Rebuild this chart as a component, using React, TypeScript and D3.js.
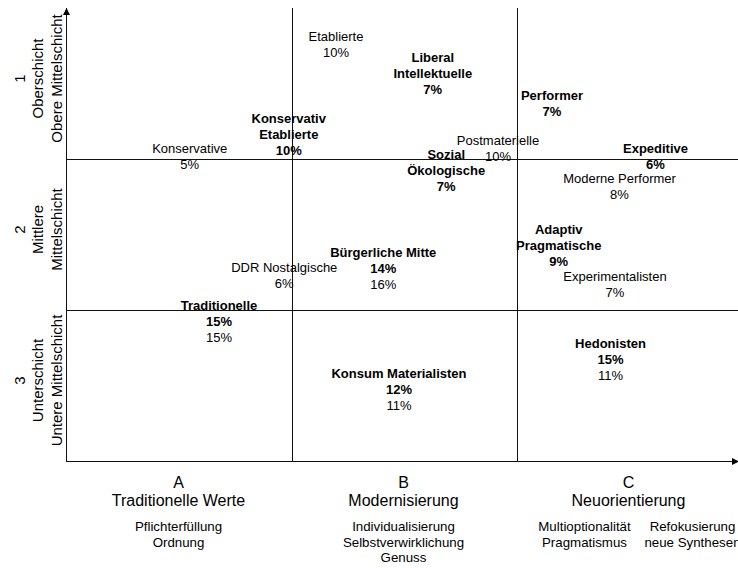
import React, { useRef, useEffect } from 'react';
import * as d3 from 'd3';

// Sinus-Milieus: new model (bold) and old model (normal), position in grid units (x: 0..3, y: 0..3)
const newNames = [
  'Liberal\nIntellektuelle',
  'Performer',
  'Konservativ\nEtablierte',
  'Sozial\nÖkologische',
  'Expeditive',
  'Adaptiv\nPragmatische',
  'Bürgerliche Mitte',
  'Traditionelle',
  'Konsum Materialisten',
  'Hedonisten',
];
const newShares = [7, 7, 10, 7, 6, 9, 14, 15, 12, 15];
const newX = [1.63, 2.16, 0.99, 1.69, 2.62, 2.19, 1.41, 0.68, 1.48, 2.42];
const newY = [0.33, 0.58, 0.73, 0.97, 0.93, 1.47, 1.62, 1.97, 2.42, 2.22];

const oldNames = [
  'Etablierte',
  'Konservative',
  'Postmaterielle',
  'Moderne Performer',
  'Experimentalisten',
  'DDR Nostalgische',
  'Bürgerliche Mitte',
  'Traditionelle',
  'Konsum Materialisten',
  'Hedonisten',
];
const oldShares = [10, 5, 10, 8, 7, 6, 16, 15, 11, 11];
const oldX = [1.2, 0.55, 1.92, 2.46, 2.44, 0.97];
const oldY = [0.19, 0.93, 0.88, 1.13, 1.78, 1.72];

const rowNumbers = ['1', '2', '3'];
const rowLabels = [
  ['Oberschicht', 'Obere Mittelschicht'],
  ['Mittlere', 'Mittelschicht'],
  ['Unterschicht', 'Untere Mittelschicht'],
];
const colLetters = ['A', 'B', 'C'];
const colLabels = ['Traditionelle Werte', 'Modernisierung', 'Neuorientierung'];
const colValues = [
  [['Pflichterfüllung', 'Ordnung']],
  [['Individualisierung', 'Selbstverwirklichung', 'Genuss']],
  [['Multioptionalität', 'Pragmatismus'], ['Refokusierung', 'neue Synthesen']],
];

const W = 738;
const H = 568;
const FONT = 'Arial, "Liberation Sans", sans-serif';

export default function App() {
  const ref = useRef<SVGSVGElement>(null);

  useEffect(() => {
    const svg = d3.select(ref.current);
    svg.selectAll('*').remove();

    const x = d3.scaleLinear().domain([0, 3]).range([66, 741]);
    const y = d3.scaleLinear().domain([0, 3]).range([8, 461]);
    const lineH = 16;

    svg.append('defs').append('marker')
      .attr('id', 'arrow')
      .attr('viewBox', '0 0 10 10')
      .attr('refX', 10).attr('refY', 5)
      .attr('markerWidth', 7).attr('markerHeight', 7)
      .attr('markerUnits', 'userSpaceOnUse')
      .attr('orient', 'auto')
      .append('path').attr('d', 'M0,0L10,5L0,10z').attr('fill', '#000');

    const g = svg.append('g').attr('stroke', '#111').attr('stroke-width', 1).attr('shape-rendering', 'crispEdges');

    // grid lines
    [1, 2].forEach(v => {
      g.append('line').attr('x1', x(v) + 1).attr('x2', x(v) + 1).attr('y1', y(0)).attr('y2', y(3));
      g.append('line').attr('x1', x(0)).attr('x2', 738).attr('y1', y(v) + 0.5).attr('y2', y(v) + 0.5);
    });

    // axes with arrows
    g.append('line').attr('x1', x(0) + 0.5).attr('x2', x(0) + 0.5).attr('y1', y(3)).attr('y2', 8)
      .attr('marker-end', 'url(#arrow)');
    g.append('line').attr('x1', x(0)).attr('x2', 739).attr('y1', y(3) + 0.5).attr('y2', y(3) + 0.5)
      .attr('marker-end', 'url(#arrow)');

    const txt = svg.append('g').attr('font-family', FONT).attr('fill', '#000').attr('text-anchor', 'middle');

    const block = (lines: { t: string; bold: boolean }[], cx: number, cy: number) => {
      lines.forEach((l, i) => {
        txt.append('text')
          .attr('x', cx)
          .attr('y', cy + i * lineH + 4.5)
          .attr('font-size', 13)
          .attr('font-weight', l.bold ? 'bold' : 'normal')
          .text(l.t);
      });
    };

    // new segments (bold), with old share below if same milieu
    newNames.forEach((name, i) => {
      const lines = name.split('\n').map(t => ({ t, bold: true }));
      lines.push({ t: `${newShares[i]}%`, bold: true });
      const oi = oldNames.indexOf(name);
      if (oi >= 0) lines.push({ t: `${oldShares[oi]}%`, bold: false });
      block(lines, x(newX[i]), y(newY[i]));
    });

    // old-only segments
    oldNames.forEach((name, i) => {
      if (newNames.includes(name)) return;
      block([{ t: name, bold: false }, { t: `${oldShares[i]}%`, bold: false }], x(oldX[i]), y(oldY[i]));
    });

    // row labels (rotated)
    const rowCols = [20, 38, 57];
    rowNumbers.forEach((n, i) => {
      const cy = y(i + 0.5) - 5;
      [n, ...rowLabels[i]].forEach((t, k) => {
        txt.append('text')
          .attr('transform', `translate(${rowCols[k]},${cy}) rotate(-90)`)
          .attr('dy', '0.35em')
          .attr('font-size', 15)
          .text(t);
      });
    });

    // column labels
    colLetters.forEach((c, i) => {
      const cx = x(i + 0.5);
      txt.append('text').attr('x', cx).attr('y', 488).attr('font-size', 16).text(c);
      txt.append('text').attr('x', cx).attr('y', 506).attr('font-size', 16).text(colLabels[i]);
      const groups = colValues[i];
      groups.forEach((grp, k) => {
        const gx = groups.length > 1 ? cx + (k - (groups.length - 1) / 2) * 108 + 10 : cx;
        grp.forEach((t, j) => {
          txt.append('text').attr('x', gx).attr('y', 531 + j * 15.5).attr('font-size', 13.3).text(t);
        });
      });
    });
  }, []);

  return (
    <svg
      ref={ref}
      width={W}
      height={H}
      style={{ position: 'absolute', left: 0, top: 0, background: '#fff' }}
    />
  );
}
